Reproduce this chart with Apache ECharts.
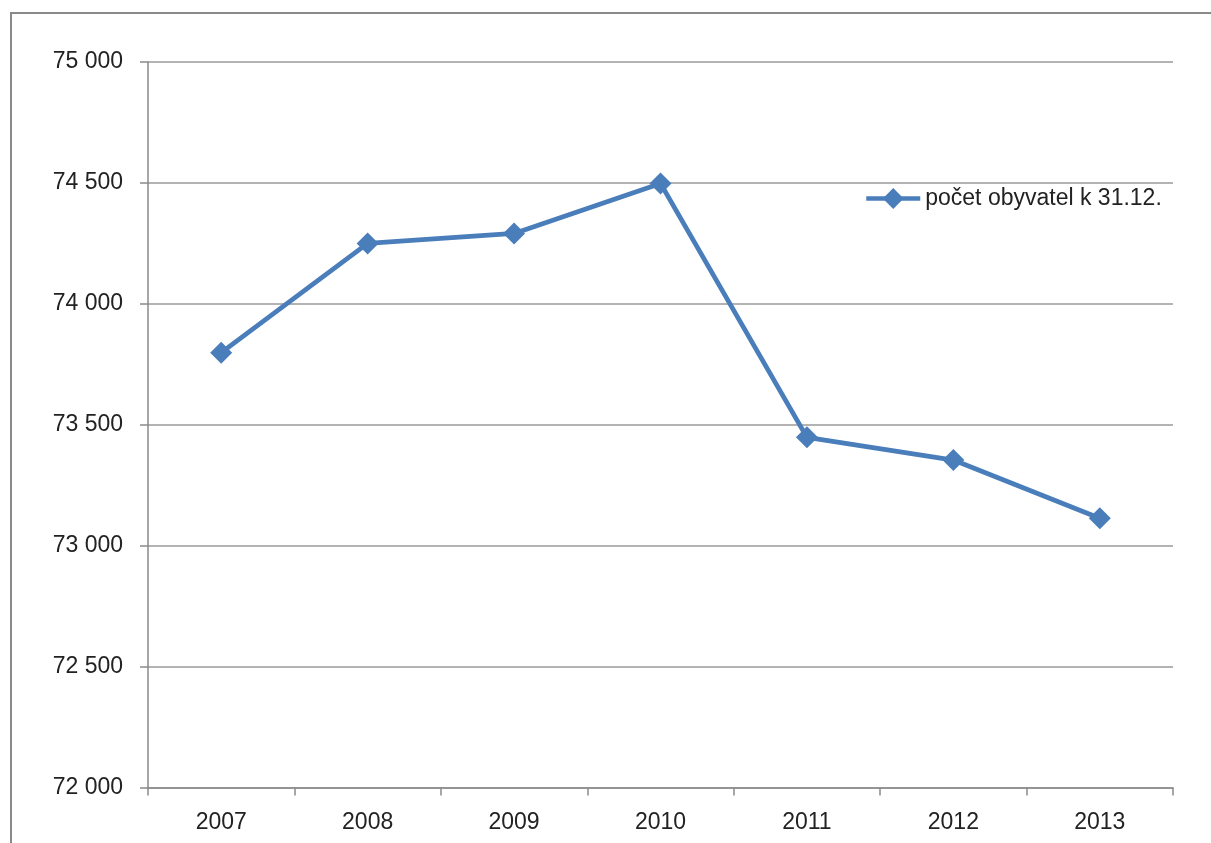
<!DOCTYPE html>
<html>
<head>
<meta charset="utf-8">
<title>počet obyvatel</title>
<script src="https://cdn.jsdelivr.net/npm/echarts@6/dist/echarts.min.js"></script>
<style>
  html, body { margin: 0; padding: 0; background: #fff; overflow: hidden; }
  .frame {
    position: absolute;
    left: 10px;
    top: 12px;
    width: 1300px;
    height: 900px;
    border: 2px solid #8a8a8a;
    box-sizing: border-box;
  }
  #chart { position: absolute; left: 0; top: 0; width: 1211px; height: 843px; }
</style>
</head>
<body>
<div class="frame"></div>
<div id="chart"></div>
<script>
// data
var years = ['2007', '2008', '2009', '2010', '2011', '2012', '2013'];
var obyvatel = [73798, 74250, 74291, 74498, 73448, 73354, 73113];
var seriesName = 'počet obyvatel k 31.12.';

var blue = '#4a7ebb';
var fontFam = '"Liberation Sans", Arial, sans-serif';

var chart = echarts.init(document.getElementById('chart'));
chart.setOption({
  backgroundColor: 'transparent',
  animation: false,
  grid: { left: 148, right: 38, top: 62, bottom: 55.5 },
  legend: {
    left: 864,
    top: 187,
    padding: 0,
    itemWidth: 54,
    itemHeight: 26,
    lineStyle: { width: 4.5, color: blue },
    itemStyle: { color: blue },
    textStyle: { fontFamily: fontFam, fontSize: 23, color: '#222' },
    data: [seriesName]
  },
  xAxis: {
    type: 'category',
    data: years,
    boundaryGap: true,
    axisLine: { lineStyle: { color: '#8a8a8a', width: 1.5 } },
    axisTick: { show: true, length: 8, lineStyle: { color: '#8a8a8a', width: 1.5 } },
    axisLabel: { margin: 24, fontFamily: fontFam, fontSize: 23, color: '#222' },
    splitLine: { show: false }
  },
  yAxis: {
    type: 'value',
    min: 72000,
    max: 75000,
    interval: 500,
    axisLine: { show: true, lineStyle: { color: '#8a8a8a', width: 1.5 } },
    axisTick: { show: true, length: 8, lineStyle: { color: '#8a8a8a', width: 1.5 } },
    axisLabel: {
      margin: 25,
      fontFamily: fontFam,
      fontSize: 23,
      color: '#222',
      formatter: function (v) {
        return String(v).replace(/\B(?=(\d{3})+(?!\d))/g, ' ');
      }
    },
    splitLine: { show: true, lineStyle: { color: '#9a9a9a', width: 1.5 } }
  },
  series: [
    {
      name: seriesName,
      type: 'line',
      data: obyvatel,
      symbol: 'diamond',
      symbolSize: 22,
      lineStyle: { color: blue, width: 4.8 },
      itemStyle: { color: blue },
      emphasis: { disabled: true }
    }
  ]
});
</script>
</body>
</html>
